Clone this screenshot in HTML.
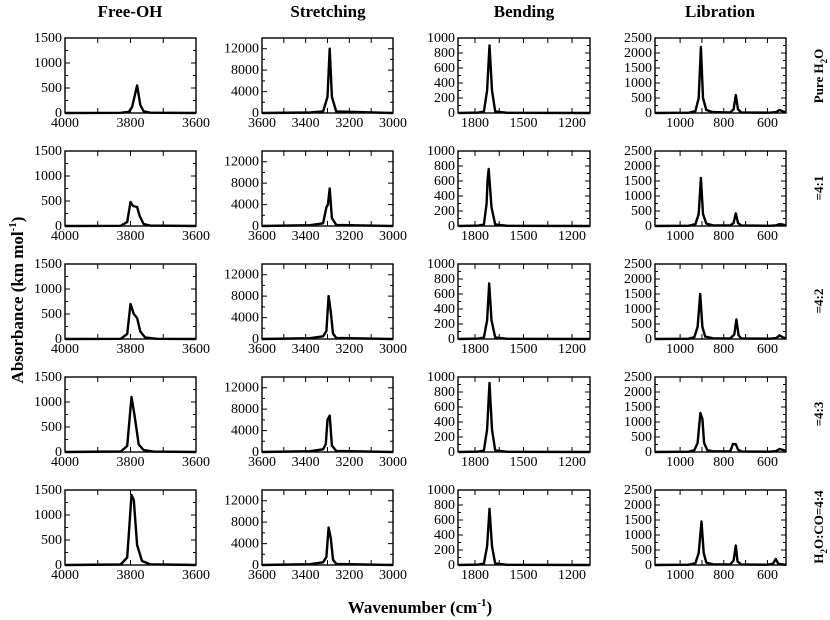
<!DOCTYPE html>
<html><head><meta charset="utf-8"><style>
html,body{margin:0;padding:0;background:#fff}
svg{display:block}
svg text{font-family:"Liberation Serif","DejaVu Serif",serif}
</style></head><body>
<svg id="chart" width="830" height="620" viewBox="0 0 830 620" xmlns="http://www.w3.org/2000/svg" font-family="Liberation Serif, serif">
<g font-weight="bold" font-size="17" text-anchor="middle">
<text x="130" y="17">Free-OH</text>
<text x="328" y="17">Stretching</text>
<text x="524" y="17">Bending</text>
<text x="720" y="17">Libration</text>
<text x="420" y="613">Wavenumber (cm<tspan font-size="11" dy="-7">-1</tspan><tspan dy="7">)</tspan></text>
<text transform="translate(23,300) rotate(-90)">Absorbance (km mol<tspan font-size="11" dy="-7">-1</tspan><tspan dy="7">)</tspan></text>
</g>
<g font-weight="bold" font-size="13" text-anchor="middle">
<text transform="translate(823,76) rotate(-90)">Pure H<tspan font-size="9" dy="4">2</tspan><tspan dy="-4">O</tspan></text>
<text transform="translate(823,188) rotate(-90)">=4:1</text>
<text transform="translate(823,301) rotate(-90)">=4:2</text>
<text transform="translate(823,414) rotate(-90)">=4:3</text>
<text transform="translate(823,527) rotate(-90)">H<tspan font-size="9" dy="4">2</tspan><tspan dy="-4">O:CO=4:4</tspan></text>
</g>
<g id="panels"></g>
</svg>
<script>
// Free-OH series (wavenumber, absorbance) per row
const freeX = [
 [4000,3830,3805,3795,3780,3770,3760,3740,3600],
 [4000,3830,3810,3800,3792,3780,3772,3760,3740,3600],
 [4000,3830,3810,3800,3790,3780,3770,3755,3720,3600],
 [4000,3830,3810,3797,3788,3775,3760,3730,3600],
 [4000,3830,3810,3797,3790,3780,3765,3740,3600]];
const freeY = [
 [0,5,25,120,550,160,35,6,0],
 [0,5,80,480,400,380,200,40,8,0],
 [0,5,100,700,500,420,150,30,5,0],
 [0,10,120,1100,750,150,40,8,0],
 [0,10,150,1400,1300,400,80,15,0]];
// Stretching
const strX = [
 [3600,3380,3320,3300,3290,3280,3260,3000],
 [3600,3380,3320,3305,3298,3290,3280,3260,3000],
 [3600,3380,3320,3305,3295,3285,3275,3260,3000],
 [3600,3380,3320,3308,3300,3290,3280,3260,3000],
 [3600,3380,3320,3305,3295,3285,3275,3260,3000]];
const strY = [
 [0,100,300,3000,12000,3000,300,0],
 [0,150,500,3500,4000,7000,1500,200,0],
 [0,150,500,1500,8000,5000,1000,200,0],
 [0,150,500,1500,6000,6800,1200,200,0],
 [0,150,500,1500,7000,5000,1000,200,0]];
// Bending
const benX = [
 [1900,1780,1745,1725,1710,1695,1675,1600,1090],
 [1900,1780,1745,1728,1722,1715,1698,1675,1600,1090],
 [1900,1780,1745,1725,1712,1698,1675,1600,1090],
 [1900,1780,1745,1725,1710,1695,1675,1600,1090],
 [1900,1780,1745,1725,1710,1695,1675,1600,1090]];
const benY = [
 [0,5,20,300,900,300,20,3,0],
 [0,5,20,300,620,760,250,20,3,0],
 [0,5,20,250,740,250,20,3,0],
 [0,5,20,300,920,300,20,3,0],
 [0,5,20,250,750,250,20,3,0]];
// Libration
const libX = [
 [1115,960,930,915,905,895,880,850,770,755,745,735,720,590,560,545,530,515],
 [1115,960,930,915,905,895,880,850,770,755,745,735,720,590,560,545,530,515],
 [1115,960,935,920,908,898,885,850,770,752,742,732,720,590,560,545,530,515],
 [1115,960,935,920,907,898,890,875,850,770,758,745,735,720,590,560,545,525,515],
 [1115,960,930,915,902,892,880,850,770,755,745,737,720,600,575,562,550,515]];
const libY = [
 [0,10,60,500,2200,500,100,30,20,120,600,120,20,10,30,100,60,20],
 [0,10,60,400,1600,400,80,25,20,100,420,100,20,8,25,60,50,20],
 [0,10,60,400,1500,400,80,25,20,150,650,120,20,10,30,120,60,20],
 [0,10,60,300,1300,1100,300,60,25,25,270,260,80,20,10,30,100,60,20],
 [0,10,60,400,1450,400,80,25,20,150,650,120,20,10,40,200,40,5]];

const rowBottoms=[113,226,339,452,565];
const cols=[
 {name:'free-oh',x0:65,x1:196,xmin:4000,xmax:3600,ymax:1500,xt:[4000,3900,3800,3700,3600],xl:[4000,3800,3600],yt:250,yl:[0,500,1000,1500],X:freeX,Y:freeY},
 {name:'stretching',x0:262,x1:393,xmin:3600,xmax:3000,ymax:14000,xt:[3600,3500,3400,3300,3200,3100,3000],xl:[3600,3400,3200,3000],yt:2000,yl:[0,4000,8000,12000],X:strX,Y:strY},
 {name:'bending',x0:458,x1:590,xmin:1905,xmax:1089,ymax:1000,xt:[1800,1650,1500,1350,1200],xl:[1800,1500,1200],yt:100,yl:[0,200,400,600,800,1000],X:benX,Y:benY},
 {name:'libration',x0:655,x1:786,xmin:1115,xmax:515,ymax:2500,xt:[1000,900,800,700,600],xl:[1000,800,600],yt:250,yl:[0,500,1000,1500,2000,2500],X:libX,Y:libY}];
const NS='http://www.w3.org/2000/svg';
const root=document.getElementById('panels');
function mk(t,a,p){const e=document.createElementNS(NS,t);for(const k in a)e.setAttribute(k,a[k]);p.appendChild(e);return e;}
cols.forEach((c,ci)=>{
 rowBottoms.forEach((yb,ri)=>{
  const yt=yb-75;
  const sx=v=>c.x0+(v-c.xmin)/(c.xmax-c.xmin)*(c.x1-c.x0);
  const sy=v=>yb-v/c.ymax*75;
  const g=mk('g',{},root);
  
  
  const fr=mk('rect',{x:c.x0,y:yt,width:c.x1-c.x0,height:75,fill:'none',stroke:'#000','stroke-width':1.4},g);
  
  
  let d='';
  c.xt.forEach(v=>{const x=sx(v);d+=`M${x} ${yb}v-5M${x} ${yt}v5`;});
  for(let v=0;v<=c.ymax+1e-9;v+=c.yt){const y=sy(v);const major=c.yl.includes(Math.round(v))||v%(c.yt*2)===0;const L=major?5:3;d+=`M${c.x0} ${y}h${L}M${c.x1} ${y}h-${L}`;}
  const tk=mk('path',{d:d,stroke:'#000','stroke-width':1,fill:'none'},g);
  
  
  c.xl.forEach(v=>{const t=mk('text',{x:sx(v),y:yb+14,'font-size':14,'text-anchor':'middle','font-family':'Liberation Serif, serif'},g);t.textContent=v;
   
   });
  c.yl.forEach(v=>{const t=mk('text',{x:c.x0-3,y:sy(v)+4,'font-size':14,'text-anchor':'end','font-family':'Liberation Serif, serif'},g);t.textContent=v;
   
   });
  const xs=c.X[ri], ys=c.Y[ri];
  const pts=xs.map((v,i)=>sx(v).toFixed(1)+','+sy(ys[i]).toFixed(1)).join(' ');
  const pl=mk('polyline',{points:pts,fill:'none',stroke:'#000','stroke-width':2.4,'stroke-linejoin':'round'},g);
  
  
 });
});
</script>
</body></html>
